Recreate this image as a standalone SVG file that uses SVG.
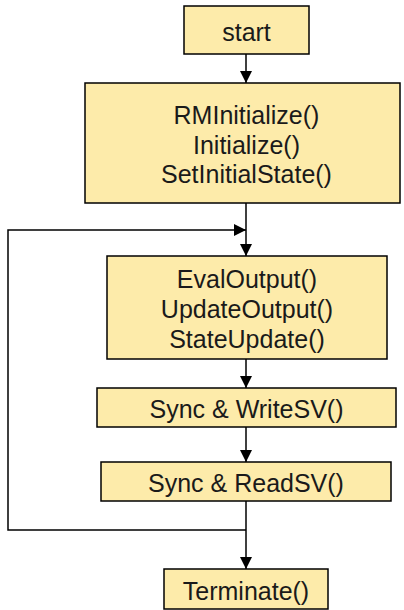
<svg xmlns="http://www.w3.org/2000/svg" width="404" height="610" viewBox="0 0 404 610">
<style>
.box{fill:#FDEBAA;stroke:#000;stroke-width:1.5}
.t{font-family:"Liberation Sans",Arial,sans-serif;font-size:25px;fill:#1a1a1a;text-anchor:middle}
.c{fill:none;stroke:#000;stroke-width:1.5}
</style>
<defs>
<marker id="ah" markerWidth="12" markerHeight="12" viewBox="0 0 12 12" refX="12" refY="6" orient="auto" markerUnits="userSpaceOnUse">
<path d="M0,0 L12,6 L0,12 Z" fill="#000"/>
</marker>
</defs>
<rect width="404" height="610" fill="#fff"/>
<g id="connectors">
<line class="c" x1="246" y1="54" x2="246" y2="83" marker-end="url(#ah)"/>
<line class="c" x1="246" y1="203" x2="246" y2="256" marker-end="url(#ah)"/>
<polyline class="c" points="246,530 8,530 8,230 246,230" marker-end="url(#ah)"/>
<line class="c" x1="246" y1="359" x2="246" y2="388" marker-end="url(#ah)"/>
<line class="c" x1="246" y1="427" x2="246" y2="462" marker-end="url(#ah)"/>
<line class="c" x1="246" y1="501" x2="246" y2="569" marker-end="url(#ah)"/>
</g>
<g id="start">
<rect class="box" x="184" y="6" width="125" height="48"/>
<text class="t" x="246.5" y="41">start</text>
</g>
<g id="init">
<rect class="box" x="85" y="83" width="315" height="120"/>
<text class="t" x="246.5" y="124">RMInitialize()</text>
<text class="t" x="246.5" y="154">Initialize()</text>
<text class="t" x="246.5" y="183">SetInitialState()</text>
</g>
<g id="eval">
<rect class="box" x="107" y="256" width="280" height="103"/>
<text class="t" x="247" y="288">EvalOutput()</text>
<text class="t" x="247" y="318">UpdateOutput()</text>
<text class="t" x="247" y="348">StateUpdate()</text>
</g>
<g id="write">
<rect class="box" x="97" y="388" width="299" height="39"/>
<text class="t" x="246.5" y="418">Sync &amp; WriteSV()</text>
</g>
<g id="read">
<rect class="box" x="101" y="462" width="290" height="39"/>
<text class="t" x="246" y="492">Sync &amp; ReadSV()</text>
</g>
<g id="terminate">
<rect class="box" x="164" y="569" width="164" height="40"/>
<text class="t" x="246" y="600">Terminate()</text>
</g>
</svg>
